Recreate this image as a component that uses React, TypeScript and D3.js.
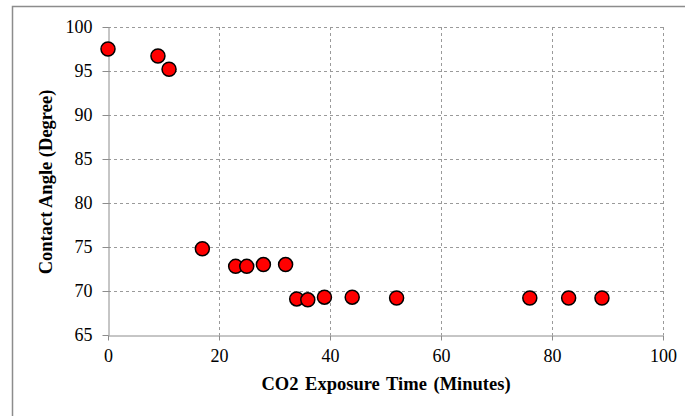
import React, { useRef, useEffect } from 'react';
import * as d3 from 'd3';

// CO2 exposure time (minutes) and contact angle (degree)
const times = [0, 9, 11, 17, 23, 25, 28, 32, 34, 36, 39, 44, 52, 76, 83, 89];
const angles = [97.5, 96.7, 95.2, 74.8, 72.8, 72.8, 73.0, 73.0, 69.1, 69.0, 69.3, 69.3, 69.2, 69.2, 69.2, 69.2];
const xTicks = [0, 20, 40, 60, 80, 100];
const yTicks = [65, 70, 75, 80, 85, 90, 95, 100];

const FONT = '"Liberation Serif", "Times New Roman", serif';

const App = () => {
  const svgRef = useRef<SVGSVGElement>(null);
  const w = 685;
  const h = 416;
  const left = 108;
  const right = 663;
  const top = 27;
  const bottom = 335;

  useEffect(() => {
    const svg = d3.select(svgRef.current);
    svg.selectAll('*').remove();

    const x = d3.scaleLinear().domain([0, 100]).range([left, right]);
    const y = d3.scaleLinear().domain([65, 100]).range([bottom, top]);

    // outer frame
    svg.append('rect')
      .attr('x', 12.5).attr('y', 6.5)
      .attr('width', w).attr('height', h)
      .attr('fill', 'white')
      .attr('stroke', '#8c8c8c')
      .attr('stroke-width', 1.5);

    // grid
    svg.append('g')
      .selectAll('line')
      .data(yTicks.filter((d) => d > 65))
      .join('line')
      .attr('x1', left).attr('x2', right)
      .attr('y1', (d) => Math.round(y(d)) + 0.5)
      .attr('y2', (d) => Math.round(y(d)) + 0.5)
      .attr('stroke', '#9a9a9a')
      .style('stroke-dasharray', '3, 3');

    svg.append('g')
      .selectAll('line')
      .data(xTicks.filter((d) => d > 0))
      .join('line')
      .attr('y1', top).attr('y2', bottom)
      .attr('x1', (d) => Math.round(x(d)) + 0.5)
      .attr('x2', (d) => Math.round(x(d)) + 0.5)
      .attr('stroke', '#9a9a9a')
      .style('stroke-dasharray', '3, 3');

    const xAxis = d3.axisBottom(x).tickValues(xTicks).tickSizeInner(5).tickSizeOuter(0).tickPadding(9);
    const yAxis = d3.axisLeft(y).tickValues(yTicks).tickSizeInner(6).tickSizeOuter(0).tickPadding(10);

    const gx = svg.append('g').attr('transform', `translate(0, ${Math.round(bottom) + 0.5})`).call(xAxis);
    const gy = svg.append('g').attr('transform', `translate(${left + 0.5}, 0)`).call(yAxis);

    [gx, gy].forEach((g) => {
      g.attr('font-family', FONT).attr('font-size', 18);
      g.selectAll('path, line').attr('stroke', '#8c8c8c');
      g.selectAll('text')
        .attr('fill', '#000')
        .style('font-family', FONT)
        .style('font-size', '18px');
    });

    svg.append('text')
      .attr('x', 386)
      .attr('y', 390)
      .attr('text-anchor', 'middle')
      .style('font-family', FONT)
      .style('font-size', '18.5px')
      .style('font-weight', 'bold')
      .style('word-spacing', '2px')
      .text('CO2 Exposure Time (Minutes)');

    svg.append('text')
      .attr('transform', `translate(52, ${(top + bottom) / 2 + 1}) rotate(-90)`)
      .attr('text-anchor', 'middle')
      .style('font-family', FONT)
      .style('font-size', '18.5px')
      .style('font-weight', 'bold')
      .text('Contact Angle (Degree)');

    svg.append('g')
      .selectAll('circle')
      .data(times.map((t, i) => ({ t, a: angles[i] })))
      .join('circle')
      .attr('cx', (d) => x(d.t))
      .attr('cy', (d) => y(d.a))
      .attr('r', 7)
      .attr('fill', '#ff0000')
      .attr('stroke', '#000')
      .attr('stroke-width', 1.5);
  }, []);

  return (
    <svg
      ref={svgRef}
      width={w}
      height={h}
      style={{ position: 'absolute', left: 0, top: 0 }}
    />
  );
};

export default App;
